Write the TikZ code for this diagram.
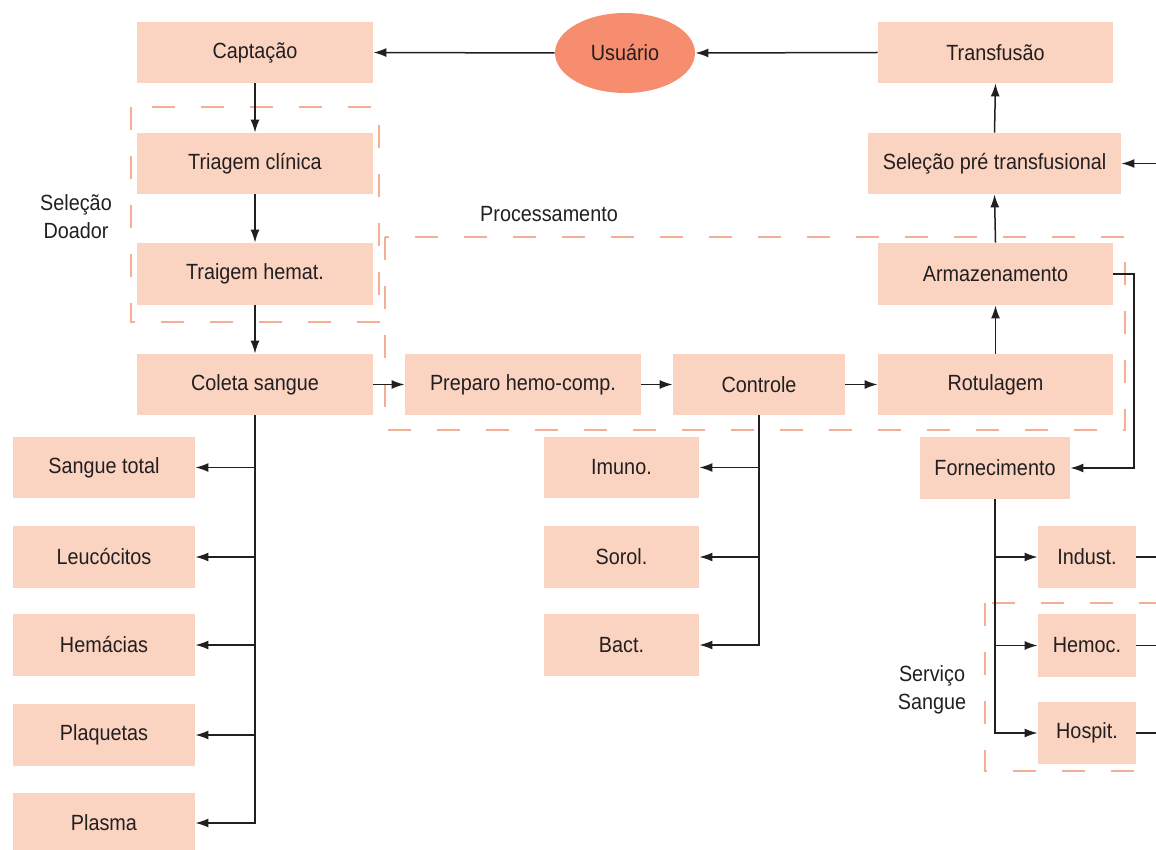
\documentclass[tikz,border=0pt]{standalone}
\usepackage{fontspec}
\setmainfont[FakeStretch=0.9]{Liberation Sans}
\usetikzlibrary{arrows.meta,shapes.geometric}
\definecolor{boxfill}{HTML}{FBD3C1}
\definecolor{ellfill}{HTML}{F68D6F}
\definecolor{dashcol}{HTML}{F6AD96}
\definecolor{txt}{HTML}{231F20}
\tikzset{
  box/.style={fill=boxfill, draw=none, inner sep=0pt, text=txt, font=\fontsize{11}{13}\selectfont},
  conn/.style={draw=txt, line width=0.75pt, -{Latex[length=6.5pt,width=4.5pt]}},
  plain/.style={draw=txt, line width=0.75pt},
  grp/.style={draw=dashcol, line width=1.2pt, dash pattern=on 11.5pt off 13pt},
  lbl/.style={text=txt, font=\fontsize{11}{14}\selectfont, align=center, inner sep=0pt}
}
\begin{document}
\begin{tikzpicture}[x=0.5pt, y=-0.5pt]
\useasboundingbox (0,0) rectangle (1156,850);
% dashed groups
\draw[grp] (131,107) rectangle (379,322);
\draw[grp] (385,237) rectangle (1125,430);
\draw[grp] (985,603) rectangle (1175,771);
% top row
\node[box, minimum width=118pt, minimum height=30.5pt] (capt) at (255,52.5) {Captação};
\node[ellipse, fill=ellfill, draw=none, inner sep=0pt, text=txt, font=\fontsize{11}{13}\selectfont, minimum width=70pt, minimum height=40pt] (usu) at (625,53) {Usuário};
\node[box, minimum width=117.5pt, minimum height=30.5pt] (transf) at (995.5,52.5) {Transfusão};
% left chain
\node[box, minimum width=118pt, minimum height=30.5pt] (triag) at (255,163.5) {Triagem clínica};
\node[box, minimum width=118pt, minimum height=31pt] (hemat) at (255,274) {Traigem hemat.};
\node[box, minimum width=118pt, minimum height=30.5pt] (coleta) at (255,384.5) {Coleta sangue};
% processing row
\node[box, minimum width=118pt, minimum height=30.5pt] (prep) at (523,384.5) {Preparo hemo-comp.};
\node[box, minimum width=86pt, minimum height=30.5pt] (ctrl) at (759,384.5) {Controle};
\node[box, minimum width=117.5pt, minimum height=30.5pt] (rot) at (995.5,384.5) {Rotulagem};
\node[box, minimum width=117.5pt, minimum height=31pt] (arm) at (995.5,274) {Armazenamento};
\node[box, minimum width=126.5pt, minimum height=30.5pt] (sel) at (994.5,163.5) {Seleção pré transfusional};
\node[box, minimum width=75pt, minimum height=31pt] (forn) at (995,468) {Fornecimento};
% left outputs
\node[box, minimum width=91pt, minimum height=30.5pt] (st) at (104,467.5) {Sangue total};
\node[box, minimum width=91pt, minimum height=31pt] (leu) at (104,557) {Leucócitos};
\node[box, minimum width=91pt, minimum height=31pt] (hem) at (104,645) {Hemácias};
\node[box, minimum width=91pt, minimum height=31pt] (plaq) at (104,735) {Plaquetas};
\node[box, minimum width=91pt, minimum height=30.5pt] (plas) at (104,823) {Plasma};
% middle outputs
\node[box, minimum width=77.5pt, minimum height=30.5pt] (imu) at (621.5,467.5) {Imuno.};
\node[box, minimum width=77.5pt, minimum height=31pt] (sor) at (621.5,557) {Sorol.};
\node[box, minimum width=77.5pt, minimum height=31pt] (bac) at (621.5,645) {Bact.};
% right outputs
\node[box, minimum width=49pt, minimum height=31pt] (ind) at (1087,557) {Indust.};
\node[box, minimum width=49pt, minimum height=31.5pt] (hmc) at (1087,645.5) {Hemoc.};
\node[box, minimum width=49pt, minimum height=31pt] (hos) at (1087,733) {Hospit.};
% labels
\node[lbl] (lsd) at (76,217) {Seleção\\Doador};
\node[lbl] (lproc) at (549,214) {Processamento};
\node[lbl] (lss) at (932,690) {Serviço\\Sangue};
% coordinates
\coordinate (selin) at (1160,163.5);
\coordinate (armr) at (1134,274);
\coordinate (fornr) at (1134,468);
\coordinate (indo) at (1160,557);
\coordinate (hmco) at (1160,645.5);
\coordinate (hoso) at (1160,733);
% top connectors
\draw[conn] (usu.west) -- (capt.east);
\draw[conn] (transf.west) -- (usu.east);
\draw[conn] (capt.south) -- (triag.north);
\draw[conn] (triag.south) -- (hemat.north);
\draw[conn] (hemat.south) -- (coleta.north);
\draw[conn] (coleta.east) -- (prep.west);
\draw[conn] (prep.east) -- (ctrl.west);
\draw[conn] (ctrl.east) -- (rot.west);
\draw[conn] (rot.north) -- (arm.south);
\draw[conn] (arm.north) -- (sel.south);
\draw[conn] (sel.north) -- (transf.south);
\draw[conn] (selin) -- (sel.east);
\draw[conn] (arm.east) -- (armr) -- (fornr) -- (forn.east);
% left tree
\draw[plain] (coleta.south) -- (255,823);
\draw[conn] (255,467.5) -- (st.east);
\draw[conn] (255,557) -- (leu.east);
\draw[conn] (255,645) -- (hem.east);
\draw[conn] (255,735) -- (plaq.east);
\draw[conn] (coleta.south) |- (plas.east);
% middle tree
\draw[plain] (ctrl.south) -- (759,645);
\draw[conn] (759,467.5) -- (imu.east);
\draw[conn] (759,557) -- (sor.east);
\draw[conn] (ctrl.south) |- (bac.east);
% right tree
\draw[plain] (forn.south) -- (995,733);
\draw[conn] (995,557) -- (ind.west);
\draw[conn] (995,645.5) -- (hmc.west);
\draw[conn] (forn.south) |- (hos.west);
\draw[plain] (ind.east) -- (indo);
\draw[plain] (hmc.east) -- (hmco);
\draw[plain] (hos.east) -- (hoso);
\end{tikzpicture}
\end{document}
